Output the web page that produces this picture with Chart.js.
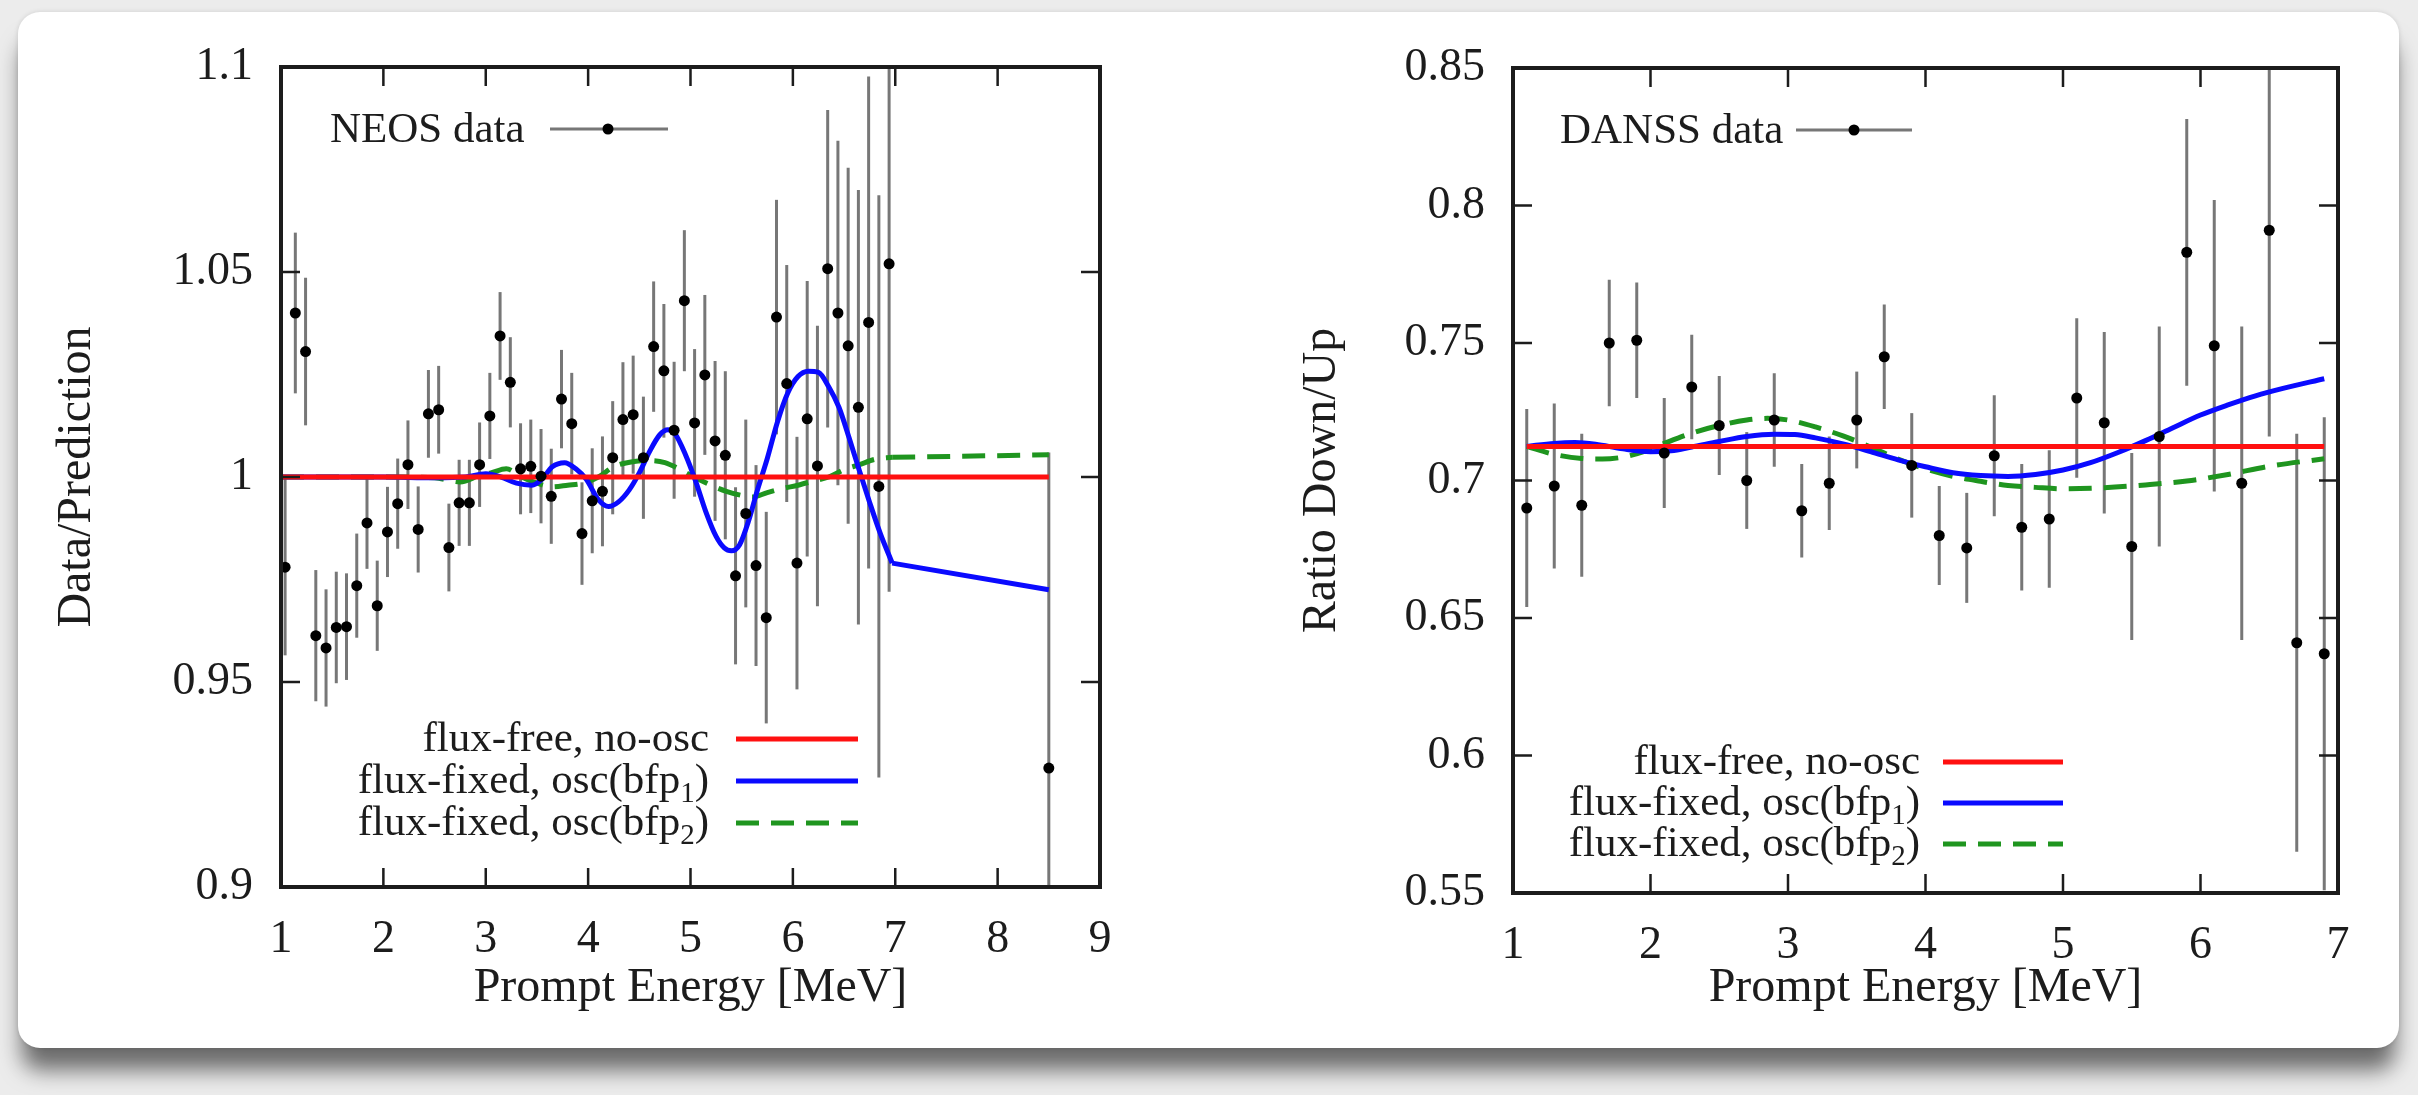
<!DOCTYPE html>
<html>
<head>
<meta charset="utf-8">
<script src="https://cdn.jsdelivr.net/npm/chart.js@4.4.0/dist/chart.umd.min.js"></script>
<style>
  html, body { margin: 0; padding: 0; width: 2418px; height: 1095px; overflow: hidden; background: #ececec; }
  #card { position: absolute; left: 18px; top: 12px; width: 2381px; height: 1036px; background: #fff;
          border-radius: 22px; box-shadow: 0 26px 22px -4px rgba(0,0,0,0.55), 0 0 5px rgba(0,0,0,0.12); }
  canvas { position: absolute; top: 0; }
  #neos { left: 0; }
  #danss { left: 1209px; }
</style>
</head>
<body>
<div id="card"></div>
<canvas id="neos" width="1209" height="1095"></canvas>
<canvas id="danss" width="1209" height="1095"></canvas>
<script>
// ---- NEOS (left panel) ----
const neosEnergy = [1.04, 1.14, 1.24, 1.34, 1.44, 1.54, 1.64, 1.74, 1.84, 1.94,
                    2.04, 2.14, 2.24, 2.34, 2.44, 2.54, 2.64, 2.74, 2.84, 2.94,
                    3.04, 3.14, 3.24, 3.34, 3.44, 3.54, 3.64, 3.74, 3.84, 3.94,
                    4.04, 4.14, 4.24, 4.34, 4.44, 4.54, 4.64, 4.74, 4.84, 4.94,
                    5.04, 5.14, 5.24, 5.34, 5.44, 5.54, 5.64, 5.74, 5.84, 5.94,
                    6.04, 6.14, 6.24, 6.34, 6.44, 6.54, 6.64, 6.74, 6.84, 6.94, 8.5];
const neosRatio = [0.978, 1.040, 1.0306, 0.9613, 0.9583, 0.9633, 0.9635, 0.9735, 0.9888, 0.9686,
                   0.9866, 0.9935, 1.003, 0.9872, 1.0154, 1.0164, 0.9828, 0.9937, 0.9937, 1.003,
                   1.0149, 1.0344, 1.0231, 1.002, 1.0026, 1.0002, 0.9953, 1.019, 1.013, 0.9862,
                   0.9942, 0.9965, 1.0047, 1.014, 1.0152, 1.0047, 1.0318, 1.0259, 1.0114, 1.043,
                   1.0132, 1.0249, 1.0088, 1.0053, 0.9759, 0.9911, 0.9784, 0.9657, 1.039, 1.0228,
                   0.979, 1.0142, 1.0027, 1.0508, 1.040, 1.032, 1.017, 1.0377, 0.9977, 1.052, 0.929];
const neosError = [0.0215, 0.0196, 0.018, 0.016, 0.0143, 0.0136, 0.013, 0.0127, 0.0112, 0.011,
                   0.011, 0.011, 0.0108, 0.0105, 0.0107, 0.0107, 0.0107, 0.0105, 0.0105, 0.0103,
                   0.0105, 0.0107, 0.011, 0.0111, 0.0114, 0.0115, 0.0116, 0.012, 0.0124, 0.0125,
                   0.0128, 0.0134, 0.0138, 0.014, 0.0144, 0.0149, 0.0159, 0.0163, 0.0167, 0.0172,
                   0.018, 0.0195, 0.0195, 0.0205, 0.0216, 0.0229, 0.0245, 0.0258, 0.0286, 0.0289,
                   0.0308, 0.0336, 0.0342, 0.0387, 0.042, 0.0434, 0.053, 0.060, 0.071, 0.08, 0.077];

const neosNoOscE = [1.0, 8.5];
const neosNoOsc = [1.0, 1.0];
// oscillating part of each fit, then the straight piece to the wide last bin
const neosBfp1E = [1.0, 1.5, 2.0, 2.5, 2.8, 3.0, 3.15, 3.3, 3.45, 3.55, 3.65, 3.77, 3.88, 3.98,
                   4.1, 4.2, 4.3, 4.4, 4.5, 4.6, 4.7, 4.78, 4.85, 4.95, 5.05, 5.15, 5.25, 5.33,
                   5.4, 5.48, 5.57, 5.65, 5.75, 5.85, 5.95, 6.05, 6.15, 6.25, 6.35, 6.45, 6.55,
                   6.65, 6.75, 6.85, 6.97];
const neosBfp1 = [1.0, 1.0, 1.0, 0.9998, 1.0, 1.0008, 1.0, 0.9985, 0.998, 0.9995, 1.0025, 1.0035, 1.002, 0.9995,
                  0.9945, 0.9928, 0.994, 0.9968, 1.001, 1.0062, 1.0103, 1.0115, 1.0105, 1.0055, 0.999, 0.9915, 0.9855, 0.9827,
                  0.982, 0.9835, 0.9895, 0.9965, 1.0045, 1.0135, 1.0205, 1.0245, 1.0258, 1.0255, 1.022, 1.017, 1.0095,
                  1.0015, 0.9938, 0.9865, 0.979];
const neosBfp1TailE = [6.97, 8.5];
const neosBfp1Tail = [0.979, 0.9725];
const neosBfp2E = [1.0, 2.0, 2.5, 2.75, 2.95, 3.05, 3.2, 3.35, 3.5, 3.65, 3.8, 3.95, 4.1, 4.25, 4.45,
                   4.6, 4.75, 4.9, 5.05, 5.2, 5.35, 5.5, 5.6, 5.75, 5.9, 6.05, 6.2, 6.35, 6.5, 6.65,
                   6.8, 6.97];
const neosBfp2 = [1.0, 1.0, 0.9998, 0.9988, 1.0005, 1.001, 1.002, 1.0, 0.9985, 0.9976, 0.998, 0.9985, 1.0, 1.0025, 1.0038,
                  1.004, 1.0035, 1.0018, 0.9998, 0.998, 0.9965, 0.9955, 0.9951, 0.9962, 0.9972, 0.998, 0.999, 1.0, 1.0018, 1.003,
                  1.0043, 1.0048];
const neosBfp2TailE = [6.97, 8.5];
const neosBfp2Tail = [1.0048, 1.0054];

const neosXTicks = [1, 2, 3, 4, 5, 6, 7, 8, 9];
const neosYTicks = [0.9, 0.95, 1, 1.05, 1.1];
const neosYLabels = ['0.9', '0.95', '1', '1.05', '1.1'];

// ---- DANSS (right panel) ----
const danssEnergy = [1.1, 1.3, 1.5, 1.7, 1.9, 2.1, 2.3, 2.5, 2.7, 2.9,
                     3.1, 3.3, 3.5, 3.7, 3.9, 4.1, 4.3, 4.5, 4.7, 4.9,
                     5.1, 5.3, 5.5, 5.7, 5.9, 6.1, 6.3, 6.5, 6.7, 6.9];
const danssRatio = [0.690, 0.698, 0.691, 0.750, 0.751, 0.710, 0.734, 0.720, 0.700, 0.722,
                    0.689, 0.699, 0.722, 0.745, 0.7055, 0.680, 0.6755, 0.709, 0.683, 0.686,
                    0.730, 0.721, 0.676, 0.716, 0.783, 0.749, 0.699, 0.791, 0.641, 0.637];
const danssError = [0.036, 0.030, 0.026, 0.023, 0.021, 0.020, 0.019, 0.018, 0.0176, 0.017,
                    0.017, 0.017, 0.0176, 0.019, 0.019, 0.018, 0.020, 0.022, 0.023, 0.025,
                    0.029, 0.033, 0.034, 0.040, 0.0485, 0.053, 0.057, 0.075, 0.076, 0.086];

const danssNoOscE = [1.1, 6.9];
const danssNoOsc = [0.7124, 0.7124];
const danssBfp1E = [1.1, 1.3, 1.45, 1.6, 1.8, 2.0, 2.15, 2.3, 2.5, 2.7, 2.9, 3.05, 3.2, 3.4, 3.6, 3.8,
                    4.0, 4.2, 4.4, 4.6, 4.8, 5.0, 5.2, 5.4, 5.6, 5.8, 6.0, 6.2, 6.4, 6.6, 6.9];
const danssBfp1 = [0.7124, 0.7135, 0.7138, 0.7132, 0.7115, 0.7105, 0.7108, 0.7122, 0.7142, 0.716, 0.7168, 0.7167,
                   0.7155, 0.7133, 0.7105, 0.7075, 0.705, 0.7028, 0.7018, 0.7015, 0.7022, 0.7038, 0.7065, 0.7102,
                   0.7145, 0.7192, 0.7238, 0.7275, 0.7308, 0.7335, 0.737];
const danssBfp2E = [1.1, 1.3, 1.5, 1.65, 1.8, 1.95, 2.1, 2.3, 2.5, 2.7, 2.85, 3.0, 3.2, 3.4, 3.6, 3.8,
                    4.0, 4.2, 4.4, 4.6, 4.8, 5.0, 5.3, 5.6, 5.9, 6.2, 6.5, 6.9];
const danssBfp2 = [0.7124, 0.7095, 0.708, 0.7078, 0.7085, 0.7105, 0.7135, 0.7172, 0.72, 0.722, 0.7226, 0.722,
                   0.7195, 0.7162, 0.7122, 0.7078, 0.7042, 0.7015, 0.6997, 0.6982, 0.6975, 0.697, 0.6974, 0.6984,
                   0.6998, 0.7022, 0.7052, 0.7079];

const danssXTicks = [1, 2, 3, 4, 5, 6, 7];
const danssYTicks = [0.55, 0.6, 0.65, 0.7, 0.75, 0.8, 0.85];
const danssYLabels = ['0.55', '0.6', '0.65', '0.7', '0.75', '0.8', '0.85'];

const curveLabels = [
    {text: 'flux-free, no-osc', sub: '', tail: ''},
    {text: 'flux-fixed, osc(bfp', sub: '1', tail: ')'},
    {text: 'flux-fixed, osc(bfp', sub: '2', tail: ')'}
];

const SERIF = '"Liberation Serif", Tinos, "Times New Roman", Times, serif';
const INK = '#1c1c1c';
const BAR = '#777777';
const RED = '#ff1010';
const BLUE = '#0a0aff';
const GREEN = '#1f951f';
const DASH = [23, 12];

function toPoints(xs, ys) {
    return xs.map((x, i) => ({x: x, y: ys[i]}));
}

// error bars, inward ticks, frame and the gnuplot style keys
function gnuplotLook(setup) {
    return {
        id: 'gnuplotLook',
        beforeDatasetsDraw(chart) {
            const {ctx, chartArea: ca, scales: {x, y}} = chart;
            ctx.save();
            ctx.beginPath();
            ctx.rect(ca.left, ca.top, ca.right - ca.left, ca.bottom - ca.top);
            ctx.clip();
            ctx.strokeStyle = BAR;
            ctx.lineWidth = 3;
            setup.energy.forEach((e, i) => {
                const px = x.getPixelForValue(e);
                ctx.beginPath();
                ctx.moveTo(px, y.getPixelForValue(setup.ratio[i] - setup.error[i]));
                ctx.lineTo(px, y.getPixelForValue(setup.ratio[i] + setup.error[i]));
                ctx.stroke();
            });
            ctx.restore();
        },
        afterDraw(chart) {
            const {ctx, chartArea: ca, scales: {x, y}} = chart;
            ctx.save();
            // inward ticks on all four sides
            ctx.strokeStyle = INK;
            ctx.lineWidth = 2.5;
            const tl = 19;
            x.ticks.forEach(t => {
                const px = x.getPixelForValue(t.value);
                if (px <= ca.left + 1 || px >= ca.right - 1) return;
                ctx.beginPath();
                ctx.moveTo(px, ca.bottom); ctx.lineTo(px, ca.bottom - tl);
                ctx.moveTo(px, ca.top); ctx.lineTo(px, ca.top + tl);
                ctx.stroke();
            });
            y.ticks.forEach(t => {
                const py = y.getPixelForValue(t.value);
                if (py <= ca.top + 1 || py >= ca.bottom - 1) return;
                ctx.beginPath();
                ctx.moveTo(ca.left, py); ctx.lineTo(ca.left + tl, py);
                ctx.moveTo(ca.right, py); ctx.lineTo(ca.right - tl, py);
                ctx.stroke();
            });
            // frame
            ctx.lineWidth = 4;
            ctx.strokeRect(ca.left, ca.top, ca.right - ca.left, ca.bottom - ca.top);

            // data key
            const k = setup.key;
            ctx.font = '43px ' + SERIF;
            ctx.fillStyle = INK;
            ctx.textAlign = 'left';
            ctx.textBaseline = 'alphabetic';
            ctx.fillText(setup.dataName, ca.left + k.textX, ca.top + k.textY);
            ctx.strokeStyle = BAR;
            ctx.lineWidth = 3;
            ctx.beginPath();
            ctx.moveTo(ca.left + k.lineX0, ca.top + k.lineY);
            ctx.lineTo(ca.left + k.lineX1, ca.top + k.lineY);
            ctx.stroke();
            ctx.fillStyle = '#000';
            ctx.beginPath();
            ctx.arc(ca.left + k.dotX, ca.top + k.lineY, 5.5, 0, Math.PI * 2);
            ctx.fill();

            // curve key
            const c = setup.curveKey;
            const styles = [{color: RED, dash: []}, {color: BLUE, dash: []}, {color: GREEN, dash: DASH}];
            curveLabels.forEach((lab, i) => {
                const ly = ca.top + c.rows[i];
                const right = ca.left + c.textRight;
                ctx.font = '43px ' + SERIF;
                const wMain = ctx.measureText(lab.text).width;
                const wTail = ctx.measureText(lab.tail).width;
                ctx.font = '29px ' + SERIF;
                const wSub = lab.sub ? ctx.measureText(lab.sub).width : 0;
                const start = right - wMain - wSub - wTail;
                const base = ly + 12;
                ctx.fillStyle = INK;
                ctx.textAlign = 'left';
                ctx.font = '43px ' + SERIF;
                ctx.fillText(lab.text, start, base);
                if (lab.sub) {
                    ctx.font = '29px ' + SERIF;
                    ctx.fillText(lab.sub, start + wMain, base + 9);
                    ctx.font = '43px ' + SERIF;
                    ctx.fillText(lab.tail, start + wMain + wSub, base);
                }
                ctx.strokeStyle = styles[i].color;
                ctx.lineWidth = 5;
                ctx.setLineDash(styles[i].dash);
                ctx.beginPath();
                ctx.moveTo(ca.left + c.lineX0, ly);
                ctx.lineTo(ca.left + c.lineX1, ly);
                ctx.stroke();
                ctx.setLineDash([]);
            });
            ctx.restore();
        }
    };
}

function curve(xs, ys, color, dashed, smooth) {
    return {
        data: toPoints(xs, ys), borderColor: color, borderWidth: 5, pointRadius: 0,
        borderDash: dashed ? DASH : [], cubicInterpolationMode: smooth ? 'monotone' : 'default', tension: 0
    };
}

function makeChart(id, d) {
    const tickFont = {family: SERIF, size: 46};
    const titleFont = {family: SERIF, size: 48};
    const datasets = [
        {data: toPoints(d.energy, d.ratio), showLine: false, pointRadius: 5.5,
         pointBackgroundColor: '#000', pointBorderWidth: 0},
        curve(d.noOscE, d.noOsc, RED, false, false),
        curve(d.bfp1E, d.bfp1, BLUE, false, true),
        curve(d.bfp2E, d.bfp2, GREEN, true, true)
    ];
    if (d.bfp1TailE) datasets.push(curve(d.bfp1TailE, d.bfp1Tail, BLUE, false, false));
    if (d.bfp2TailE) datasets.push(curve(d.bfp2TailE, d.bfp2Tail, GREEN, true, false));
    return new Chart(document.getElementById(id), {
        type: 'line',
        data: {datasets: datasets},
        options: {
            responsive: false,
            animation: false,
            devicePixelRatio: 1,
            events: [],
            layout: {padding: d.padding},
            plugins: {legend: {display: false}, tooltip: {enabled: false}},
            scales: {
                x: {
                    type: 'linear', min: d.xTicks[0], max: d.xTicks[d.xTicks.length - 1],
                    afterBuildTicks: s => { s.ticks = d.xTicks.map(v => ({value: v})); },
                    afterFit: s => { s.height = d.xAxisHeight; },
                    grid: {display: false, drawTicks: false},
                    border: {display: false},
                    ticks: {font: tickFont, color: INK, padding: 25, maxRotation: 0, autoSkip: false},
                    title: {display: true, text: 'Prompt Energy [MeV]', font: titleFont, color: INK,
                            padding: {top: 0, bottom: 78}}
                },
                y: {
                    type: 'linear', min: d.yTicks[0], max: d.yTicks[d.yTicks.length - 1],
                    afterBuildTicks: s => { s.ticks = d.yTicks.map(v => ({value: v})); },
                    afterFit: s => { s.width = d.yAxisWidth; },
                    grid: {display: false, drawTicks: false},
                    border: {display: false},
                    ticks: {font: tickFont, color: INK, padding: 28, autoSkip: false,
                            callback: v => d.yLabels[d.yTicks.indexOf(v)]},
                    title: {display: true, text: d.yTitle, font: titleFont, color: INK,
                            padding: {top: d.yTitlePad, bottom: 0}}
                }
            }
        },
        plugins: [gnuplotLook({
            energy: d.energy, ratio: d.ratio, error: d.error, dataName: d.dataName,
            key: d.key, curveKey: d.curveKey
        })]
    });
}

makeChart('neos', {
    energy: neosEnergy, ratio: neosRatio, error: neosError,
    noOscE: neosNoOscE, noOsc: neosNoOsc, bfp1E: neosBfp1E, bfp1: neosBfp1, bfp2E: neosBfp2E, bfp2: neosBfp2,
    bfp1TailE: neosBfp1TailE, bfp1Tail: neosBfp1Tail, bfp2TailE: neosBfp2TailE, bfp2Tail: neosBfp2Tail,
    xTicks: neosXTicks, yTicks: neosYTicks, yLabels: neosYLabels,
    yTitle: 'Data/Prediction', dataName: 'NEOS data',
    padding: {left: 0, top: 67, right: 109, bottom: 0},
    xAxisHeight: 208, yAxisWidth: 281, yTitlePad: 49,
    key: {textX: 49, textY: 75, lineX0: 269, lineX1: 387, dotX: 327, lineY: 62},
    curveKey: {textRight: 428, lineX0: 455, lineX1: 577, rows: [672, 714, 756]}
});

makeChart('danss', {
    energy: danssEnergy, ratio: danssRatio, error: danssError,
    noOscE: danssNoOscE, noOsc: danssNoOsc, bfp1E: danssBfp1E, bfp1: danssBfp1, bfp2E: danssBfp2E, bfp2: danssBfp2,
    xTicks: danssXTicks, yTicks: danssYTicks, yLabels: danssYLabels,
    yTitle: 'Ratio Down/Up', dataName: 'DANSS data',
    padding: {left: 0, top: 68, right: 80, bottom: 0},
    xAxisHeight: 202, yAxisWidth: 304, yTitlePad: 85,
    key: {textX: 47, textY: 75, lineX0: 283, lineX1: 399, dotX: 341, lineY: 62},
    curveKey: {textRight: 407, lineX0: 430, lineX1: 550, rows: [694, 735, 776]}
});
</script>
</body>
</html>
